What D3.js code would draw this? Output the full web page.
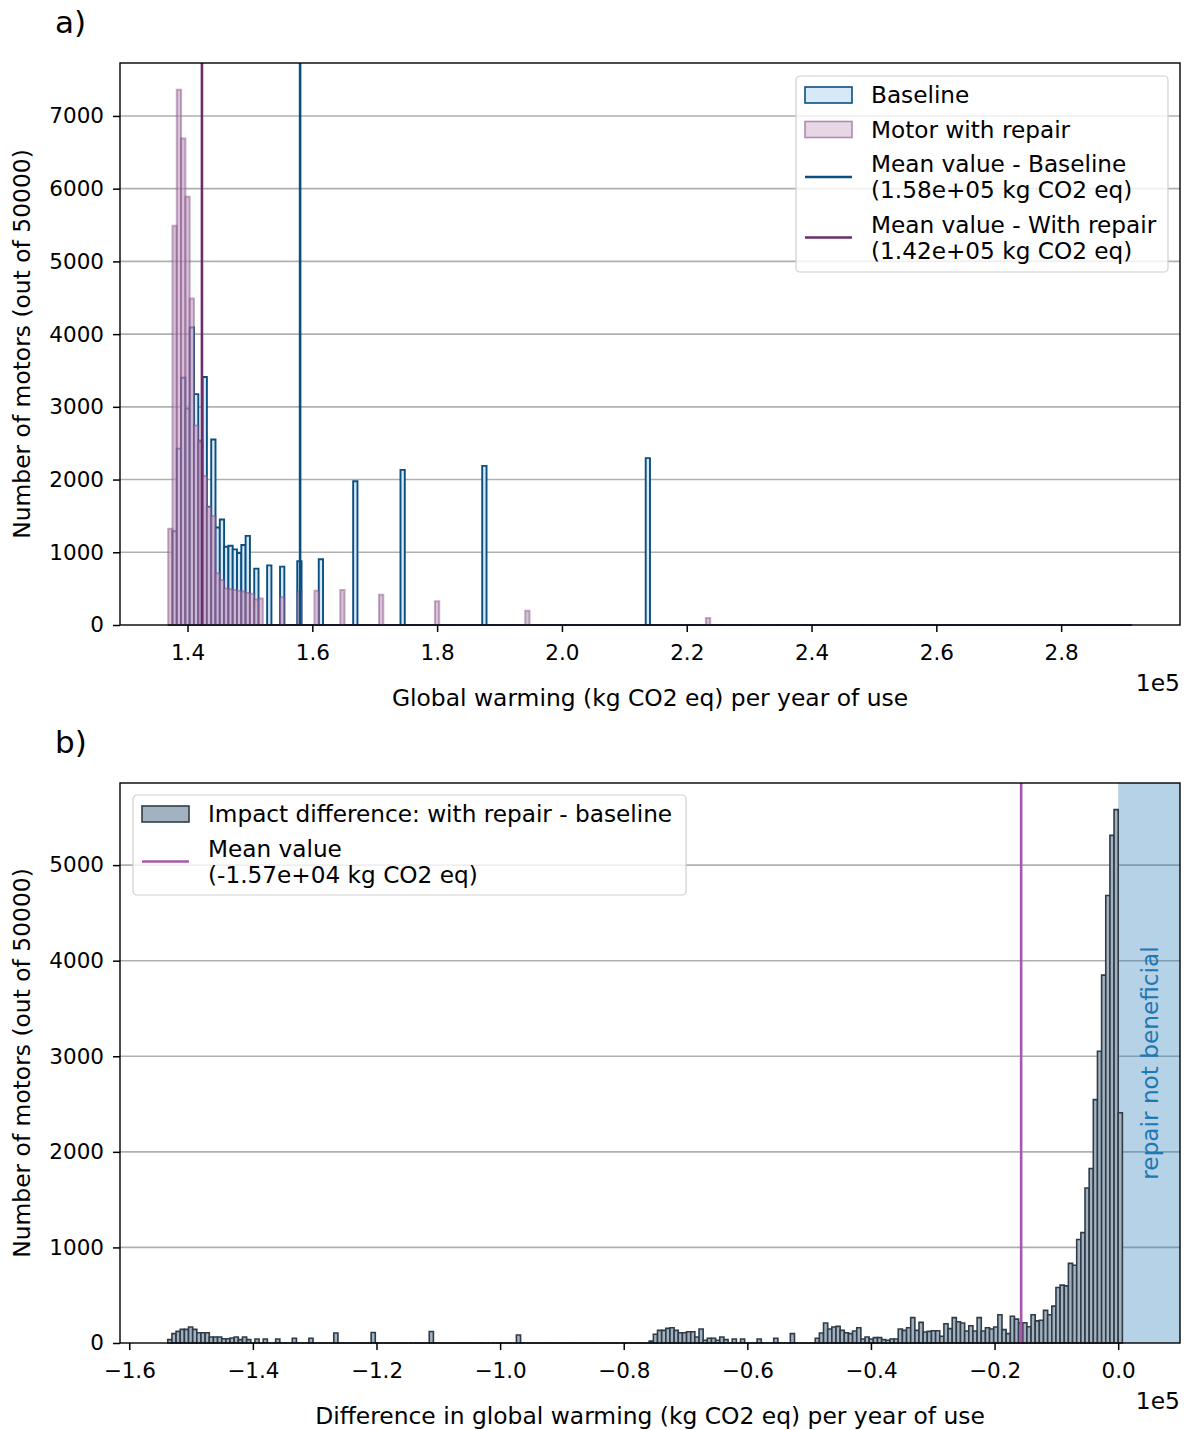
<!DOCTYPE html>
<html>
<head>
<meta charset="utf-8">
<script src="https://cdn.jsdelivr.net/npm/d3@7"></script>
<style>
body { margin: 0; background: #fff; }
svg text { font-family: "DejaVu Sans", sans-serif; fill: #000; }
</style>
</head>
<body>
<svg id="chart" width="1190" height="1430"></svg>
<script>
// ---- panel a: histograms of global warming per year of use (units of 1e5 kg CO2 eq)
var topBinStart = 1.369, topBinWidth = 0.006894, topBinCount = 224;

var baselineCounts = [
    0, 1290, 2425, 3400, 2975, 4090, 3175, 2525, 3410, 1625, 2550, 1340, 1450, 1075, 1090, 1040,
    990, 1100, 1225, 0, 775, 0, 0, 820, 0, 0, 803, 0, 0, 0, 876, 0,
    0, 0, 0, 904, 0, 0, 0, 0, 0, 0, 0, 1977, 0, 0, 0, 0,
    0, 0, 0, 0, 0, 0, 2133, 0, 0, 0, 0, 0, 0, 0, 0, 0,
    0, 0, 0, 0, 0, 0, 0, 0, 0, 2188, 0, 0, 0, 0, 0, 0,
    0, 0, 0, 0, 0, 0, 0, 0, 0, 0, 0, 0, 0, 0, 0, 0,
    0, 0, 0, 0, 0, 0, 0, 0, 0, 0, 0, 0, 0, 0, 0, 2294
];
var repairCounts = [
    1325, 5490, 7360, 6690, 5890, 4490, 2745, 2540, 2050, 1630, 1500, 710, 618, 503, 490, 480,
    470, 460, 440, 430, 352, 366, 0, 0, 0, 0, 380, 0, 0, 0, 458, 0,
    0, 0, 472, 0, 0, 0, 0, 0, 482, 0, 0, 0, 0, 0, 0, 0,
    0, 417, 0, 0, 0, 0, 0, 0, 0, 0, 0, 0, 0, 0, 326, 0,
    0, 0, 0, 0, 0, 0, 0, 0, 0, 0, 0, 0, 0, 0, 0, 0,
    0, 0, 0, 197, 0, 0, 0, 0, 0, 0, 0, 0, 0, 0, 0, 0,
    0, 0, 0, 0, 0, 0, 0, 0, 0, 0, 0, 0, 0, 0, 0, 0,
    0, 0, 0, 0, 0, 0, 0, 0, 0, 0, 0, 0, 0, 96
];
var baselineMean = 1.5804, repairMean = 1.4231;

var topXTicks = [1.4, 1.6, 1.8, 2.0, 2.2, 2.4, 2.6, 2.8];
var topYTicks = [0, 1000, 2000, 3000, 4000, 5000, 6000, 7000];
var topLegend = [
    { kind: "patch", label: ["Baseline"] },
    { kind: "patch", label: ["Motor with repair"] },
    { kind: "line", label: ["Mean value - Baseline", "(1.58e+05 kg CO2 eq)"] },
    { kind: "line", label: ["Mean value - With repair", "(1.42e+05 kg CO2 eq)"] }
];

// ---- panel b: difference histogram
var diffBinStart = -1.5377, diffBinWidth = 0.006715, diffBinCount = 230;
var diffCounts = [
    35, 98, 122, 143, 143, 167, 143, 108, 108, 108, 63, 63, 63, 45, 45, 52, 63, 35, 63, 35,
    0, 42, 0, 42, 0, 0, 42, 0, 0, 0, 49, 0, 0, 0, 49, 0, 0, 0, 0, 0,
    105, 0, 0, 0, 0, 0, 0, 0, 0, 110, 0, 0, 0, 0, 0, 0, 0, 0, 0, 0,
    0, 0, 0, 120, 0, 0, 0, 0, 0, 0, 0, 0, 0, 0, 0, 0, 0, 0, 0, 0,
    0, 0, 0, 0, 83, 0, 0, 0, 0, 0, 0, 0, 0, 0, 0, 0, 0, 0, 0, 0,
    0, 0, 0, 0, 0, 0, 0, 0, 0, 0, 0, 0, 0, 0, 0, 0,
    20, 91, 132, 132, 153, 160, 132, 108, 108, 118, 118, 63, 146, 28, 49, 49, 28, 63, 35, 0,
    42, 0, 42, 0, 0, 0, 42, 0, 0, 0, 49, 0, 0, 0, 98, 0, 0, 0, 0, 0,
    49, 105, 209, 146, 167, 174, 132, 108, 98, 125, 160, 42, 63, 42, 56, 56, 35, 28, 42, 42,
    146, 132, 160, 265, 132, 216, 115, 122, 128, 128, 70, 202, 150, 265, 223, 209, 125, 181, 125, 265,
    125, 160, 146, 167,
    295, 140, 98, 280, 250, 210, 212, 170, 295, 231, 238, 341, 295, 386, 580, 606, 598, 833, 814, 1083,
    1155, 1621, 1826, 2546, 3053, 3849, 4682, 5311, 5580, 2409
];
var diffMean = -0.157;
var diffXLimits = [-1.615, 0.1];
var notBeneficialFrom = 0;

var bottomXTicks = [-1.6, -1.4, -1.2, -1.0, -0.8, -0.6, -0.4, -0.2, 0.0];
var bottomYTicks = [0, 1000, 2000, 3000, 4000, 5000];
var bottomLegend = [
    { kind: "patch", label: ["Impact difference: with repair - baseline"] },
    { kind: "line", label: ["Mean value", "(-1.57e+04 kg CO2 eq)"] }
];

var svg = d3.select("#chart");
var tickSize = 21.5, labelSize = 23.4, legendSize = 23.2;

var topBox = { left: 120, top: 63, width: 1060, height: 562 };
var botBox = { left: 120, top: 783, width: 1060, height: 560 };

function barPath(x, y, start, w) {
    return function(c, i) {
        var x0 = x(start + i * w), x1 = x(start + (i + 1) * w);
        var y0 = y(0), y1 = y(c);
        return "M" + x0 + "," + y0 + "V" + y1 + "H" + x1 + "V" + y0 + "Z";
    };
}

function padded(lo, hi) {
    var m = (hi - lo) * 0.05;
    return [lo - m, hi + m];
}

function fullCounts(counts, n) {
    var out = [];
    for (var i = 0; i < n; i++) out.push(counts[i] || 0);
    return out;
}

function drawGrid(g, box, y, yTicks) {
    g.append("g").selectAll("line").data(yTicks).enter().append("line")
        .attr("x1", 0).attr("x2", box.width)
        .attr("y1", function(d) { return y(d); })
        .attr("y2", function(d) { return y(d); })
        .attr("stroke", "#b0b0b0").attr("stroke-width", 1.6);
}

function drawFrame(g, box, x, y, xTicks, yTicks, xFmt) {
    var xAxis = d3.axisBottom(x).tickValues(xTicks).tickFormat(xFmt).tickSize(7).tickPadding(13);
    var gx = g.append("g").attr("transform", "translate(0," + box.height + ")").call(xAxis);
    var yAxis = d3.axisLeft(y).tickValues(yTicks).tickFormat(d3.format("d")).tickSize(7).tickPadding(9);
    var gy = g.append("g").call(yAxis);
    [gx, gy].forEach(function(a) {
        a.select(".domain").remove();
        a.selectAll(".tick line").attr("stroke", "#000").attr("stroke-width", 1.5);
        a.selectAll(".tick text").attr("font-size", tickSize).attr("font-family", "DejaVu Sans").attr("fill", "#000");
    });
    g.append("rect").attr("width", box.width).attr("height", box.height)
        .attr("fill", "none").attr("stroke", "#000").attr("stroke-width", 1.4);
}

function drawLegend(g, x0, y0, w, h, items, styles) {
    var lg = g.append("g").attr("transform", "translate(" + x0 + "," + y0 + ")");
    lg.append("rect").attr("width", w).attr("height", h).attr("rx", 4)
        .attr("fill", "#fff").attr("fill-opacity", 0.8).attr("stroke", "#d0d0d0").attr("stroke-width", 1.2);
    var yPos = 19;
    items.forEach(function(it, i) {
        var st = styles[i];
        var cy = yPos + (it.label.length - 1) * 13;
        if (it.kind === "patch") {
            lg.append("rect").attr("x", 9).attr("y", cy - 8).attr("width", 47).attr("height", 16)
                .attr("fill", st.fill).attr("fill-opacity", st.fillOpacity || 1)
                .attr("stroke", st.stroke).attr("stroke-width", st.strokeWidth);
        } else {
            lg.append("line").attr("x1", 9).attr("x2", 56).attr("y1", cy).attr("y2", cy)
                .attr("stroke", st.stroke).attr("stroke-width", 2.5);
        }
        it.label.forEach(function(t, j) {
            lg.append("text").attr("x", 75).attr("y", yPos + j * 26)
                .attr("dy", "0.36em").attr("font-size", legendSize).text(t);
        });
        yPos += it.label.length * 26 + 8.5;
    });
}

// ================= panel a =================
var xTop = d3.scaleLinear()
    .domain(padded(topBinStart, topBinStart + topBinCount * topBinWidth))
    .range([0, topBox.width]);
var yTop = d3.scaleLinear()
    .domain([0, d3.max(repairCounts.concat(baselineCounts)) * 1.05])
    .range([topBox.height, 0]);

var gTop = svg.append("g").attr("transform", "translate(" + topBox.left + "," + topBox.top + ")");
drawGrid(gTop, topBox, yTop, topYTicks.slice(1));

gTop.append("g").selectAll("path").data(fullCounts(baselineCounts, topBinCount)).enter().append("path")
    .attr("d", barPath(xTop, yTop, topBinStart, topBinWidth))
    .attr("fill", "#d6e9f7").attr("stroke", "#0b4f80").attr("stroke-width", 1.9);

gTop.append("g").selectAll("path").data(fullCounts(repairCounts, topBinCount)).enter().append("path")
    .attr("d", barPath(xTop, yTop, topBinStart, topBinWidth))
    .attr("fill", "#c198c1").attr("fill-opacity", 0.6)
    .attr("stroke", "#7d4c7d").attr("stroke-opacity", 0.45).attr("stroke-width", 2);

gTop.append("line").attr("x1", xTop(baselineMean)).attr("x2", xTop(baselineMean))
    .attr("y1", 0).attr("y2", topBox.height).attr("stroke", "#0b4f80").attr("stroke-width", 2.6);
gTop.append("line").attr("x1", xTop(repairMean)).attr("x2", xTop(repairMean))
    .attr("y1", 0).attr("y2", topBox.height).attr("stroke", "#6b2e6b").attr("stroke-width", 2.6);

drawFrame(gTop, topBox, xTop, yTop, topXTicks, topYTicks, d3.format(".1f"));

drawLegend(gTop, 676, 13, 372, 196, topLegend, [
    { fill: "#d6e9f7", stroke: "#0b4f80", strokeWidth: 1.6 },
    { fill: "#c198c1", fillOpacity: 0.4, stroke: "#b08ab0", strokeWidth: 1.6 },
    { stroke: "#0b4f80" },
    { stroke: "#6b2e6b" }
]);

// ================= panel b =================
var xBot = d3.scaleLinear().domain(diffXLimits).range([0, botBox.width]);
var yBot = d3.scaleLinear().domain([0, d3.max(diffCounts) * 1.05]).range([botBox.height, 0]);

var gBot = svg.append("g").attr("transform", "translate(" + botBox.left + "," + botBox.top + ")");
drawGrid(gBot, botBox, yBot, bottomYTicks.slice(1));

gBot.append("rect")
    .attr("x", xBot(notBeneficialFrom)).attr("y", 0)
    .attr("width", xBot(diffXLimits[1]) - xBot(notBeneficialFrom)).attr("height", botBox.height)
    .attr("fill", "#1f77b4").attr("fill-opacity", 0.33);

gBot.append("g").selectAll("path").data(fullCounts(diffCounts, diffBinCount)).enter().append("path")
    .attr("d", barPath(xBot, yBot, diffBinStart, diffBinWidth))
    .attr("fill", "#a3b2c0").attr("stroke", "#2f3c47").attr("stroke-width", 1.6);

gBot.append("line").attr("x1", xBot(diffMean)).attr("x2", xBot(diffMean))
    .attr("y1", 0).attr("y2", botBox.height).attr("stroke", "#a45aab").attr("stroke-width", 2.6);

gBot.append("text")
    .attr("transform", "translate(" + (xBot(notBeneficialFrom) + 31) + "," + (botBox.height / 2) + ") rotate(-90)")
    .attr("text-anchor", "middle").attr("dy", "0.36em").attr("font-size", legendSize)
    .style("fill", "#1f77b4").text("repair not beneficial");

drawFrame(gBot, botBox, xBot, yBot, bottomXTicks, bottomYTicks, d3.format(".1f"));

drawLegend(gBot, 13, 12, 553, 100, bottomLegend, [
    { fill: "#a3b2c0", stroke: "#2f3c47", strokeWidth: 1.6 },
    { stroke: "#a45aab" }
]);

// ================= labels =================
svg.append("text").attr("x", 55).attr("y", 22).attr("dy", "0.36em").attr("font-size", 31).text("a)");
svg.append("text").attr("x", 55).attr("y", 742).attr("dy", "0.36em").attr("font-size", 31).text("b)");

svg.append("text").attr("x", topBox.left + topBox.width / 2).attr("y", 698)
    .attr("text-anchor", "middle").attr("dy", "0.36em").attr("font-size", labelSize)
    .text("Global warming (kg CO2 eq) per year of use");
svg.append("text").attr("x", botBox.left + botBox.width / 2).attr("y", 1416)
    .attr("text-anchor", "middle").attr("dy", "0.36em").attr("font-size", labelSize)
    .text("Difference in global warming (kg CO2 eq) per year of use");

svg.append("text").attr("x", 1180).attr("y", 683).attr("text-anchor", "end")
    .attr("dy", "0.36em").attr("font-size", labelSize).text("1e5");
svg.append("text").attr("x", 1180).attr("y", 1401).attr("text-anchor", "end")
    .attr("dy", "0.36em").attr("font-size", labelSize).text("1e5");

svg.append("text")
    .attr("transform", "translate(22," + (topBox.top + topBox.height / 2) + ") rotate(-90)")
    .attr("text-anchor", "middle").attr("dy", "0.36em").attr("font-size", labelSize)
    .text("Number of motors (out of 50000)");
svg.append("text")
    .attr("transform", "translate(22," + (botBox.top + botBox.height / 2) + ") rotate(-90)")
    .attr("text-anchor", "middle").attr("dy", "0.36em").attr("font-size", labelSize)
    .text("Number of motors (out of 50000)");
</script>
</body>
</html>
